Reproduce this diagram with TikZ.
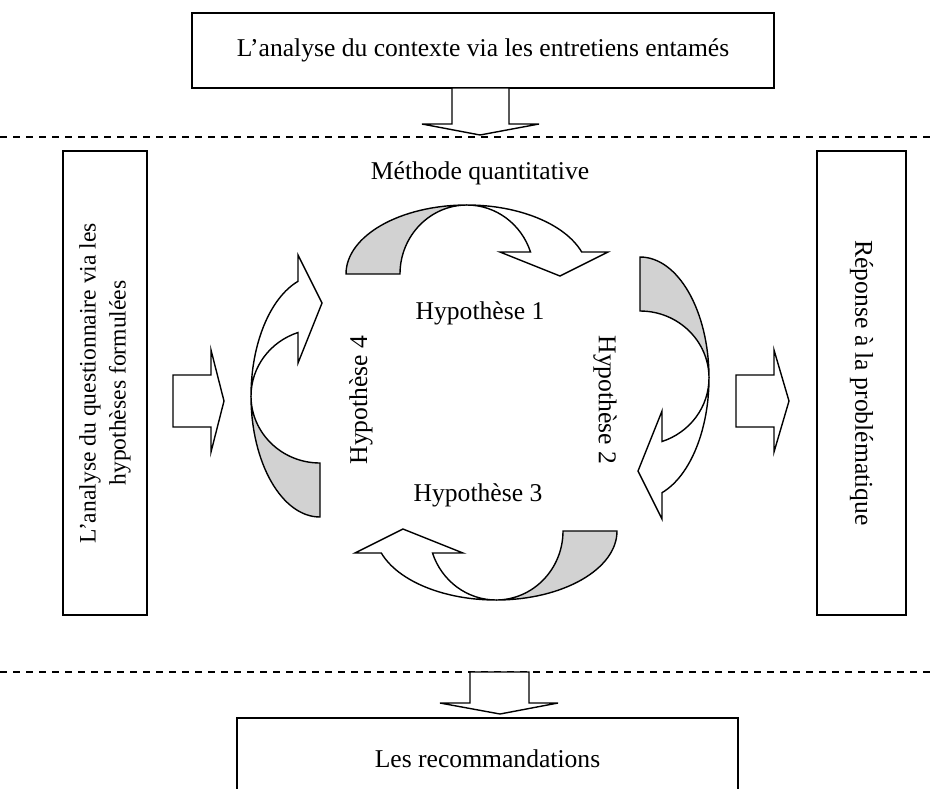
\documentclass[tikz,border=0pt]{standalone}
\usepackage{fontspec}
\setmainfont{Liberation Serif}
\usetikzlibrary{positioning}
\definecolor{gris}{HTML}{D2D2D2}
\definecolor{encre}{HTML}{000000}

\tikzset{
  courbe/.pic={
    % bande grise (arriere)
    \draw[trait, fill=gris] (-121,0) arc[start angle=180, end angle=90, x radius=121, y radius=69]
      arc[start angle=90, end angle=180, x radius=67, y radius=69] -- cycle;
    % bande blanche et pointe
    \draw[trait, fill=white] (0,69) arc[start angle=90, end angle=18.6, x radius=121, y radius=69]
      -- (141,22) -- (93,-2) -- (33,22) -- (63.5,22)
      arc[start angle=18.6, end angle=90, x radius=67, y radius=69] -- cycle;
  }
}

\begin{document}
\begin{tikzpicture}[
  x=0.5pt, y=0.5pt,
  font=\fontsize{12.8}{15}\selectfont,
  trait/.style={draw=encre, line width=0.7pt, line join=miter},
  boite/.style={draw=encre, line width=0.6pt, inner sep=0pt, align=center, fill=white},
  bloc/.style={draw=encre, line width=0.7pt, fill=white},
  tirets/.style={draw=encre, line width=0.6pt, dash pattern=on 3.5pt off 3pt}]
\useasboundingbox (0,0) rectangle (931,-788);
\clip (0,0) rectangle (931,-788);
% ---- cadres
\node[boite, minimum width=291pt, minimum height=37.5pt] (contexte) at (483,-50.5) {L’analyse du contexte via les entretiens entamés};
\node[boite, rotate=90, minimum width=232pt, minimum height=42pt, font=\fontsize{11.8}{15}\selectfont] (questionnaire) at (105,-383) {L’analyse du questionnaire via les\\hypothèses formulées};
\node[boite, rotate=-90, minimum width=232pt, minimum height=44.5pt] (reponse) at (861.5,-383) {Réponse à la problématique};
\node[boite, minimum width=250.5pt, minimum height=41pt] (recommandations) at (487.5,-759) {Les recommandations};
% ---- lignes pointillees
\draw[tirets] (0,-137) -- (931,-137);
\draw[tirets] (0,-672) -- (931,-672);
% ---- fleches pleines
\draw[bloc] (452,-88) -- (452,-124) -- (422,-124) -- (480,-135) -- (539,-124) -- (509,-124) -- (509,-88) -- cycle;
\draw[bloc] (470,-672) -- (470,-703) -- (440,-703) -- (500,-714) -- (558,-703) -- (529,-703) -- (529,-672) -- cycle;
\draw[bloc] (173,-375) -- (211,-375) -- (211,-350) -- (224,-401) -- (211,-452) -- (211,-427) -- (173,-427) -- cycle;
\draw[bloc] (736,-375) -- (774,-375) -- (774,-350) -- (789,-401) -- (774,-452) -- (774,-427) -- (736,-427) -- cycle;
% ---- cycle des hypotheses
\pic at (467,-274) {courbe};
\pic[rotate=-90] at (640,-378) {courbe};
\pic[rotate=-180] at (496,-531) {courbe};
\pic[rotate=90] at (320,-396) {courbe};
\node (methode) at (480,-173) {Méthode quantitative};
\node (hyp1) at (480,-313) {Hypothèse 1};
\node[rotate=-90] (hyp2) at (605,-400) {Hypothèse 2};
\node (hyp3) at (478,-495) {Hypothèse 3};
\node[rotate=90] (hyp4) at (361,-400) {Hypothèse 4};
\end{tikzpicture}
\end{document}
